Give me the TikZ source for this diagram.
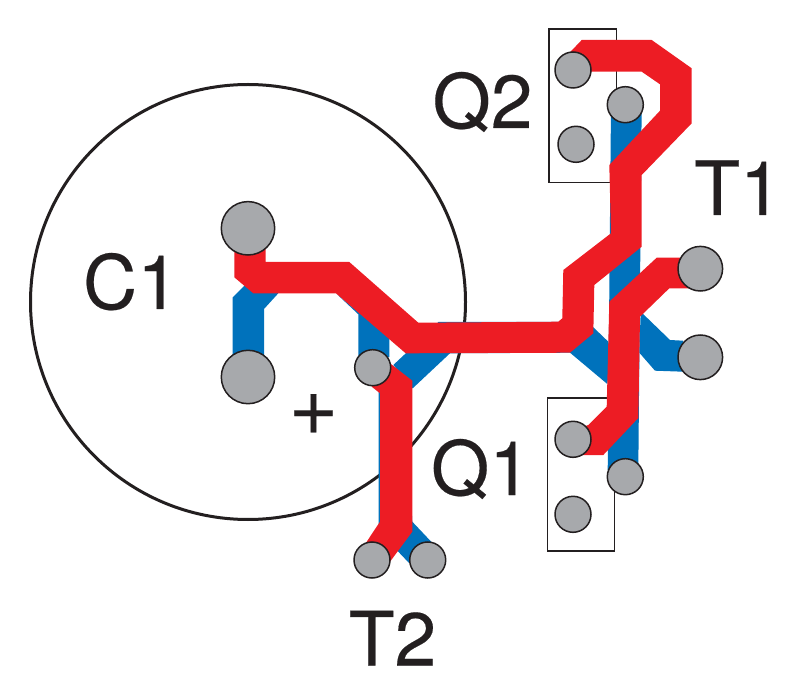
\documentclass[tikz,border=0pt]{standalone}
\usepackage{fontspec}
\setmainfont{TeX Gyre Heros}[FakeBold=0.25]
\definecolor{trackred}{HTML}{ED1C24}
\definecolor{trackblue}{HTML}{0072BC}
\definecolor{padgray}{HTML}{A7A9AC}
\definecolor{inkblack}{HTML}{231F20}
\tikzset{
  redtrack/.style={fill=trackred,draw=none},
  bluetrack/.style={fill=trackblue,draw=none},
  outline/.style={draw=inkblack,line width=1.4pt,fill=none},
  pad/.style={circle,draw=inkblack,line width=1.5pt,fill=padgray,inner sep=0pt,outer sep=0pt,minimum size=#1},
  lbl/.style={text=inkblack,font=\fontsize{75}{75}\selectfont,anchor=base,inner sep=0pt},
  plbl/.style={text=inkblack,font=\fontsize{85}{85}\selectfont,anchor=base,inner sep=0pt}
}
\begin{document}
\begin{tikzpicture}[x=1pt,y=-1pt]
\useasboundingbox (0,0) rectangle (800,700);
% capacitor outline and transistor outlines
\draw[draw=inkblack,line width=3pt] (248,302) circle[radius=217.5];
\draw[outline] (549,29) rectangle (616.5,182.5);
\draw[outline] (547.5,398) rectangle (614.7,551);
% blue tracks
\fill[bluetrack] (232.7,297.3) -- (245,285) -- (278.3,293.3) -- (264,309) -- (264,357) -- (232.7,357) -- cycle;
\fill[bluetrack] (336,293.3) -- (358.3,314.3) -- (358.3,357) -- (389.3,357) -- (389.3,338) -- cycle;
\fill[bluetrack] (393.3,365) -- (420,340) -- (438.3,322) -- (483,322) -- (575,322) -- (593.3,327.3) -- (608.3,341.7) -- (611,353) -- (607.3,384) -- (570,352.7) -- (450,353.3) -- (412.7,388.3) -- cycle;
\fill[bluetrack] (378.7,385) -- (405,385) -- (412.3,521.7) -- (432.7,543.3) -- (409,563) -- (398.3,551.7) -- (378.7,525) -- cycle;
\fill[bluetrack] (611,105) -- (641.7,105) -- (638.3,470) -- (607.7,470) -- cycle;
\fill[bluetrack] (640.7,311.7) -- (670,340) -- (683,340.7) -- (683,371.7) -- (655,370.7) -- (639.3,352.7) -- cycle;
% red tracks
\fill[redtrack] (234.3,240) -- (234.3,277.3) -- (253.3,293.3) -- (336,293.3) -- (405.7,353.3) -- (570,352.7) -- (593.3,333.3) -- (594.3,285) -- (641.7,246.7) -- (641.7,175) -- (691.7,123.3) -- (691.7,68.3) -- (651.7,40) -- (581.7,40) -- (570,52.3) -- (575,75) -- (591.7,71.7) -- (641.7,71.7) -- (660,84.3) -- (660,110.7) -- (609.3,165) -- (611,233.3) -- (563.3,270) -- (562.3,318.3) -- (558.3,321.7) -- (418.3,322.7) -- (349.3,262) -- (265.7,262) -- (265.7,240) -- cycle;
\fill[redtrack] (656.7,257.7) -- (690,257.7) -- (690,288.3) -- (669.3,288.3) -- (640,316.7) -- (638.3,418) -- (603.3,455) -- (575,455) -- (575,430) -- (588.3,425) -- (606.7,406.7) -- (609.3,301.7) -- cycle;
\fill[redtrack] (375,365) -- (390,363.3) -- (412.3,380.7) -- (412.3,531.7) -- (390,561.7) -- (372,560) -- (366.7,541.7) -- (380,521.7) -- (380,393.3) -- (371.7,386.7) -- cycle;
% pads
\node[pad=53.4pt] (c1a) at (248,228.3) {};
\node[pad=53.4pt] (c1b) at (248,377) {};
\node[pad=36pt] (mid) at (372.7,367.7) {};
\node[pad=36pt] (t2a) at (372,560) {};
\node[pad=36pt] (t2b) at (427.7,560) {};
\node[pad=36pt] (q1a) at (573,439.3) {};
\node[pad=36pt] (q1b) at (573,514.3) {};
\node[pad=36pt] (q1c) at (625.3,476.7) {};
\node[pad=36pt] (q2a) at (573,70) {};
\node[pad=36pt] (q2b) at (576,144.3) {};
\node[pad=36pt] (q2c) at (625.3,104.7) {};
\node[pad=44.6pt] (t1a) at (700.3,268.7) {};
\node[pad=44.6pt] (t1b) at (700.3,357.3) {};
% labels
\node[lbl] (lq2) at (482.5,128) {Q2};
\node[lbl] (lq1) at (481,495) {Q1};
\node[lbl] (lt1) at (738,215) {T1};
\node[lbl] (lc1) at (131,309) {C1};
\node[lbl] (lt2) at (392.5,665.5) {T2};
\node[plbl] (lplus) at (313.5,434.5) {+};
\end{tikzpicture}
\end{document}
